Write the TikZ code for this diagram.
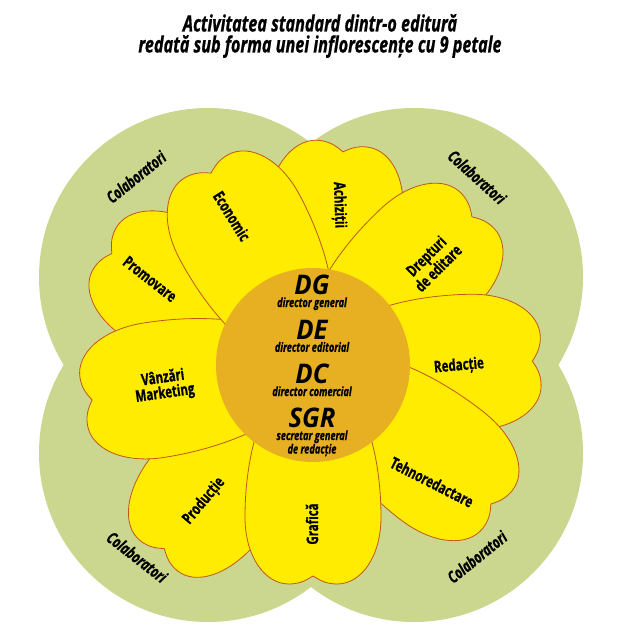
\documentclass[tikz,border=0pt]{standalone}
\usepackage{fontspec}
\newfontfamily\narrowsans{Open Sans}[FakeStretch=0.72,FakeBold=0.8]
\newfontfamily\capsans{Open Sans}[FakeStretch=0.95]
\usepackage{tikz}
\usetikzlibrary{positioning}
\definecolor{Leaf}{HTML}{CBD78F}
\definecolor{Petal}{HTML}{FFEC00}
\definecolor{Rim}{HTML}{C0561E}
\definecolor{Core}{HTML}{E6B022}

\begin{document}
\begin{tikzpicture}[
  x=1pt,y=-1pt,
  clover/.style={fill=Leaf,draw=none},
  leaf/.style={draw=Rim,fill=Petal,line width=0.8pt},
  core/.style={fill=Core,draw=none},
  headline/.style={font=\narrowsans\fontsize{22.5}{21}\selectfont\bfseries\itshape,align=center},
  collab/.style={font=\narrowsans\fontsize{16.5}{18}\selectfont\bfseries\itshape},
  dept/.style={font=\narrowsans\fontsize{16}{15.5}\selectfont\bfseries,align=center},
  boss/.style={font=\capsans\fontsize{27}{27}\selectfont\bfseries\itshape,inner sep=0pt},
  bosssub/.style={font=\narrowsans\fontsize{12.8}{13.5}\selectfont\bfseries\itshape,inner sep=0pt,align=center},
  pics/petal/.style={code={
    \draw[leaf] (0,0) .. controls (10,45) and (80,68) .. (152,68)
      .. controls (192,68) and (219,48) .. (219,24)
      .. controls (219,12) and (214,5) .. (211,0)
      .. controls (214,-5) and (219,-12) .. (219,-24)
      .. controls (219,-48) and (192,-68) .. (152,-68)
      .. controls (80,-68) and (10,-45) .. (0,0) -- cycle;
  }}
]
\useasboundingbox (0,0) rectangle (640,640);
\fill[white] (0,0) rectangle (640,640);

% four green circles
\fill[clover] (208,277) circle[radius=169];
\fill[clover] (414,277) circle[radius=169];
\fill[clover] (208,453) circle[radius=169];
\fill[clover] (414,453) circle[radius=169];

% petals, back to front
\pic[rotate=82,xscale=1.02] at (313,365) {petal};
\pic[rotate=151,xscale=1.09] at (313,365) {petal};
\pic[rotate=231,xscale=1.12] at (313,365) {petal};
\pic[rotate=43,xscale=1.03] at (313,365) {petal};
\pic[rotate=1,xscale=1.04] at (313,365) {petal};
\pic[rotate=-38,xscale=1.07] at (313,365) {petal};
\pic[rotate=-90,xscale=1.0] at (313,365) {petal};
\pic[rotate=189,xscale=1.06] at (313,365) {petal};
\pic[rotate=118,xscale=1.03] at (313,365) {petal};

% heart of the flower
\fill[core] (313,365) circle[radius=97];

\node[headline] (head) at (320,36) {Activitatea standard dintr-o editură\\redată sub forma unei inflorescențe cu 9 petale};

\node[collab,rotate=39] (colnw) at (136,177) {Colaboratori};
\node[collab,rotate=-42] (colne) at (477,177) {Colaboratori};
\node[collab,rotate=-38] (colsw) at (137,557) {Colaboratori};
\node[collab,rotate=39] (colse) at (477,557) {Colaboratori};

\node[dept,rotate=-58] (econ) at (232,216) {Economic};
\node[dept,rotate=-88] (achiz) at (339,205) {Achiziții};
\node[dept,rotate=45] (drept) at (432,262) {Drepturi\\de editare};
\node[dept,rotate=5] (redac) at (459,366) {Redacție};
\node[dept,rotate=-27] (tehno) at (432,482) {Tehnoredactare};
\node[dept,rotate=90] (graf) at (312,524) {Grafică};
\node[dept,rotate=50] (prod) at (204,501) {Producție};
\node[dept,rotate=8] (vanz) at (164,386) {Vânzări\\Marketing};
\node[dept,rotate=-38] (promo) at (150,279) {Promovare};

\node[boss] (dg) at (312,285) {DG};
\node[bosssub,below=2pt of dg] (dgsub) {director general};
\node[boss] (de) at (312,330) {DE};
\node[bosssub,below=2pt of de] (desub) {director editorial};
\node[boss] (dc) at (312,374) {DC};
\node[bosssub,below=2pt of dc] (dcsub) {director comercial};
\node[boss] (sgr) at (312,418) {SGR};
\node[bosssub,below=2pt of sgr] (sgrsub) {secretar general\\de redacție};
\end{tikzpicture}
\end{document}
